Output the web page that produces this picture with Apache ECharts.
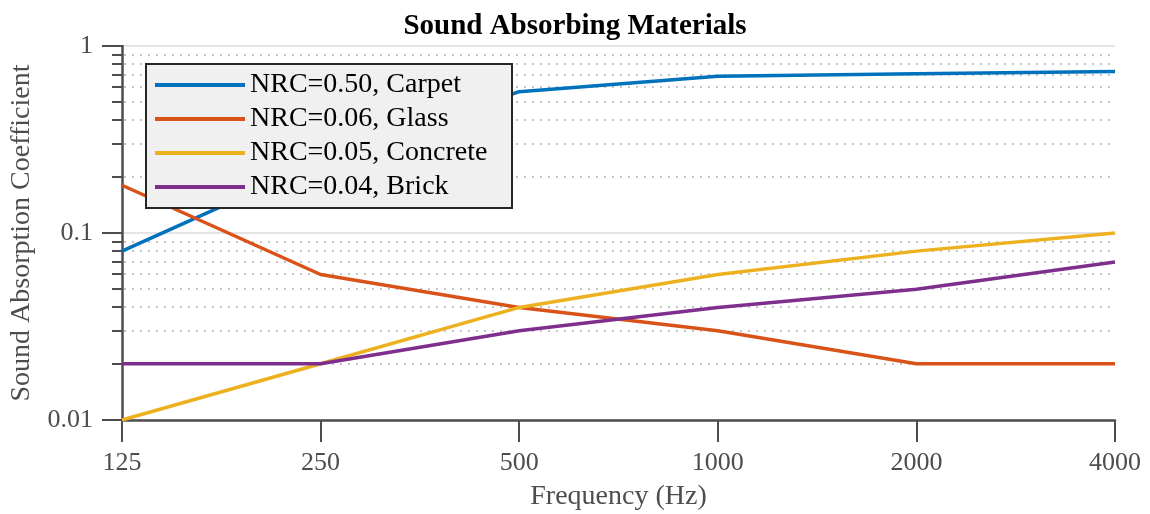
<!DOCTYPE html>
<html>
<head>
<meta charset="utf-8">
<script src="https://cdn.jsdelivr.net/npm/echarts@6/dist/echarts.min.js"></script>
<style>
html,body{margin:0;padding:0;background:#fff;}
#chart{width:1150px;height:514px;}
</style>
</head>
<body>
<div id="chart"></div>
<script>
const frequencies = ['125', '250', '500', '1000', '2000', '4000'];
const seriesNames = ['NRC=0.50, Carpet', 'NRC=0.06, Glass', 'NRC=0.05, Concrete', 'NRC=0.04, Brick'];
const carpet   = [0.08, 0.24, 0.57, 0.69, 0.71, 0.73];
const glass    = [0.18, 0.06, 0.04, 0.03, 0.02, 0.02];
const concrete = [0.01, 0.02, 0.04, 0.06, 0.08, 0.10];
const brick    = [0.02, 0.02, 0.03, 0.04, 0.05, 0.07];
const colors = ['#0072BD', '#D95319', '#EDB120', '#7E2F8E'];
const yTickLabels = ['0.01', '0.1', '1'];
const minorValues = [0.02, 0.03, 0.04, 0.05, 0.06, 0.07, 0.08, 0.09,
                     0.2, 0.3, 0.4, 0.5, 0.6, 0.7, 0.8, 0.9];

const FONT = '"Liberation Serif", "Times New Roman", serif';
const AXIS_COLOR = '#4d4d4d';

const chart = echarts.init(document.getElementById('chart'), null, {renderer: 'canvas'});
const allData = [carpet, glass, concrete, brick];

const lineSeries = seriesNames.map((name, i) => ({
  name: name,
  type: 'line',
  data: allData[i],
  showSymbol: false,
  symbol: 'none',
  z: 3,
  lineStyle: {width: 3.5, color: colors[i]},
  itemStyle: {color: colors[i]},
  emphasis: {disabled: true}
}));

const minorSeries = {
  type: 'custom',
  silent: true,
  clip: false,
  z: 1,
  data: minorValues.map(v => [0, v]),
  renderItem: function (params, api) {
    const cs = params.coordSys;
    const p = api.coord([0, api.value(1)]);
    const y = Math.round(p[1]);
    return {
      type: 'group',
      children: [
        {
          type: 'line',
          shape: {x1: cs.x + 2, y1: y, x2: cs.x + cs.width, y2: y},
          style: {stroke: '#c4c4c4', lineWidth: 2, lineDash: [2, 6]}
        },
        {
          type: 'line',
          shape: {x1: cs.x - 10, y1: y, x2: cs.x, y2: y},
          style: {stroke: AXIS_COLOR, lineWidth: 2}
        }
      ]
    };
  }
};

chart.setOption({
  animation: false,
  backgroundColor: '#ffffff',
  title: {
    text: 'Sound Absorbing Materials',
    left: 'center',
    top: 7,
    textStyle: {fontFamily: FONT, fontSize: 29, fontWeight: 'bold', color: '#000'}
  },
  grid: {left: 122, right: 35, top: 46, bottom: 94, containLabel: false, outerBoundsMode: 'none'},
  legend: {
    data: seriesNames,
    orient: 'vertical',
    left: 146,
    top: 64,
    icon: 'rect',
    itemWidth: 90,
    itemHeight: 4,
    itemGap: 4,
    padding: [6, 10, 6, 9],
    backgroundColor: '#f0f0f0',
    borderColor: '#262626',
    borderWidth: 2,
    borderRadius: 0,
    selectedMode: false,
    textStyle: {fontFamily: FONT, fontSize: 28, color: '#000', lineHeight: 30, width: 252, overflow: 'none'}
  },
  xAxis: {
    type: 'category',
    data: frequencies,
    boundaryGap: false,
    name: 'Frequency (Hz)',
    nameLocation: 'middle',
    nameGap: 63,
    nameTextStyle: {fontFamily: FONT, fontSize: 28, color: AXIS_COLOR},
    axisLine: {onZero: false, lineStyle: {color: AXIS_COLOR, width: 2.5}},
    axisTick: {show: true, length: 22, inside: false, alignWithLabel: true, lineStyle: {color: AXIS_COLOR, width: 2}},
    axisLabel: {fontFamily: FONT, fontSize: 26, color: AXIS_COLOR, margin: 30},
    splitLine: {show: false}
  },
  yAxis: {
    type: 'log',
    logBase: 10,
    min: 0.01,
    max: 1,
    name: 'Sound Absorption Coefficient',
    nameLocation: 'middle',
    nameGap: 86,
    nameTextStyle: {fontFamily: FONT, fontSize: 28, color: AXIS_COLOR},
    axisLine: {show: true, lineStyle: {color: AXIS_COLOR, width: 2.5}},
    axisTick: {show: true, length: 20, inside: false, lineStyle: {color: AXIS_COLOR, width: 2}},
    axisLabel: {
      fontFamily: FONT, fontSize: 26, color: AXIS_COLOR, margin: 29,
      formatter: function (v) {
        const lg = Math.round(Math.log10(v));
        return yTickLabels[lg + 2];
      }
    },
    splitLine: {show: true, lineStyle: {color: '#e4e4e4', width: 2}},
    minorTick: {show: false},
    minorSplitLine: {show: false}
  },
  series: [minorSeries].concat(lineSeries)
});
</script>
</body>
</html>
